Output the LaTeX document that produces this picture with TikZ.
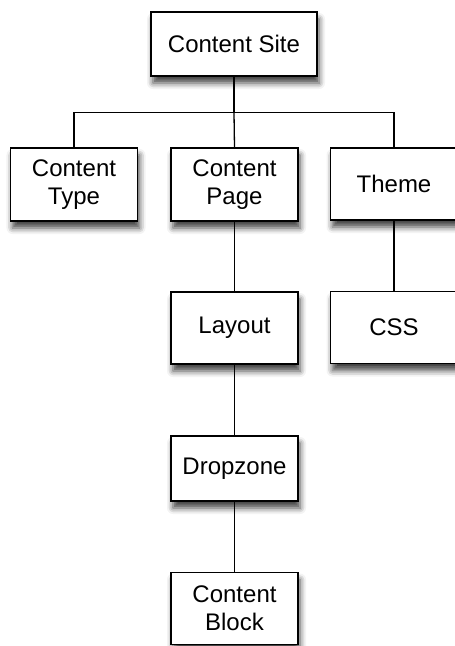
\documentclass[tikz,border=0pt]{standalone}
\usepackage{fontspec}
\setmainfont{Liberation Sans}
\usetikzlibrary{shadows.blur}
\begin{document}
\begin{tikzpicture}[x=1pt,y=-1pt,
  box/.style={draw=black, line width=1.6pt, fill=white, inner sep=0pt,
    minimum width=#1, align=center,
    font=\fontsize{24}{28}\selectfont,
    blur shadow={shadow xshift=2pt, shadow yshift=-7pt, shadow blur radius=6pt, shadow opacity=75}},
  box/.default=127pt,
  link/.style={draw=black, line width=1.3pt}]
\useasboundingbox (0,0) rectangle (455,646);
\node[box=166pt, minimum height=64pt] (site) at (234,44) {Content Site};
\node[box, minimum height=73pt] (type) at (74,184.5) {Content\\Type};
\node[box, minimum height=73pt] (page) at (234.5,184.5) {Content\\Page};
\node[box, minimum height=72pt] (theme) at (394,184) {Theme};
\node[box, minimum height=72pt] (layout) at (234.5,328) {Layout};
\node[box, minimum height=72pt] (css) at (394,327.5) {CSS};
\node[box, minimum height=65pt] (drop) at (234.5,468.5) {Dropzone};
\node[box, minimum height=72pt] (block) at (234.5,608.5) {Content\\Block};
\coordinate (bar) at (234,112.7);
\draw[link] (site.south) -- (bar);
\draw[link] (type.north) |- (bar) -| (theme.north);
\draw[link] (bar) -- (page.north);
\draw[link] (page.south) -- (layout.north);
\draw[link] (theme.south) -- (css.north);
\draw[link] (layout.south) -- (drop.north);
\draw[link] (drop.south) -- (block.north);
\end{tikzpicture}
\end{document}
